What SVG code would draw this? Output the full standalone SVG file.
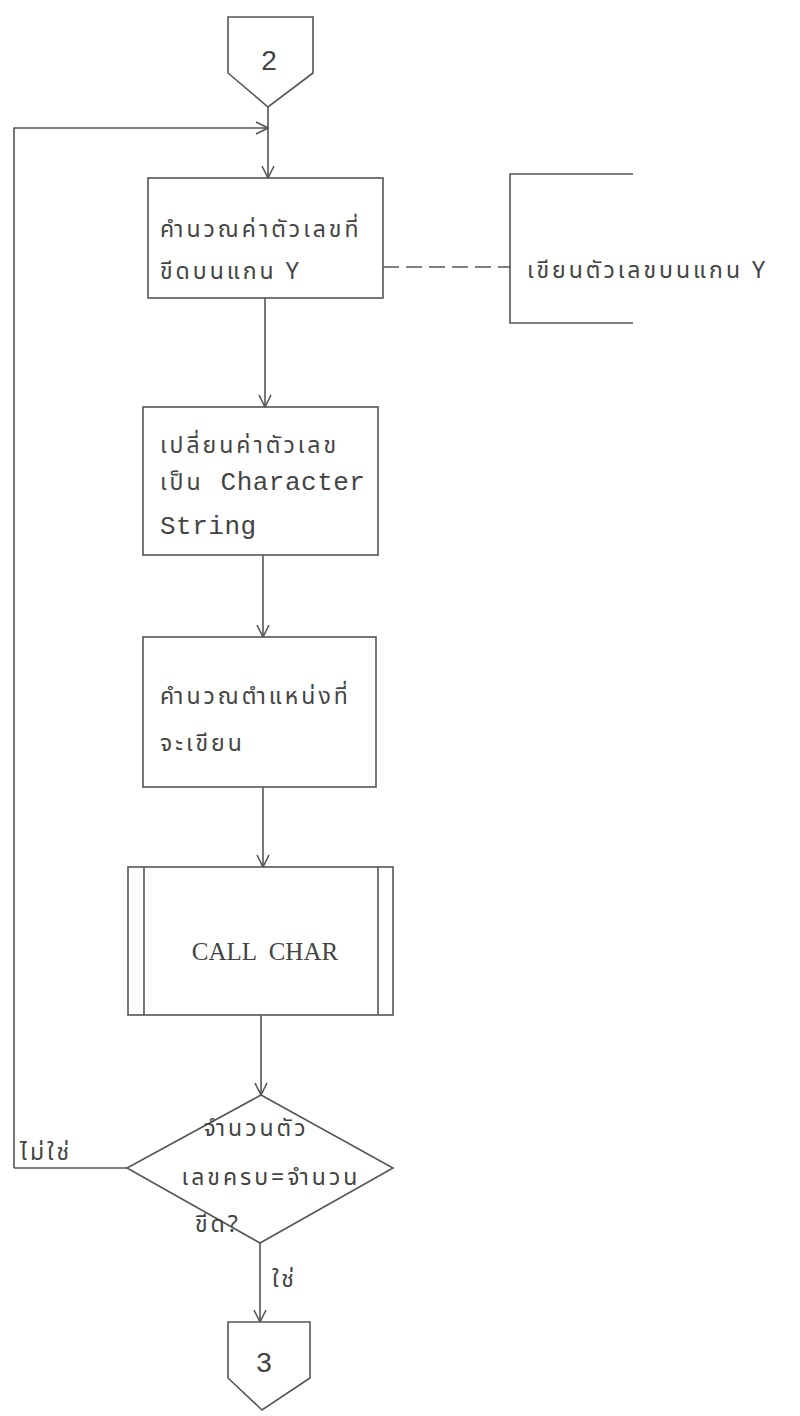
<svg xmlns="http://www.w3.org/2000/svg" width="800" height="1416" viewBox="0 0 800 1416">
<style>
.s{fill:none;stroke:#555;stroke-width:1.6}
.b{fill:#fff;stroke:#555;stroke-width:1.6}
.t{font-family:"Noto Sans Thai","Noto Sans","DejaVu Sans",sans-serif;font-size:23px;fill:#444;letter-spacing:3px}
.m{font-family:"Liberation Mono",monospace;font-size:26px;fill:#444;letter-spacing:0.5px}
.r{font-family:"Liberation Serif",serif;font-size:25px;fill:#444}
.d{font-family:"Liberation Sans",sans-serif;font-size:28px;fill:#444}
</style>
<defs>
<marker id="a" viewBox="0 0 14 14" refX="13" refY="7" markerWidth="14" markerHeight="14" markerUnits="userSpaceOnUse" orient="auto">
<path d="M1,1 L13,7 L1,13" fill="none" stroke="#555" stroke-width="1.6"/>
</marker>
</defs>
<rect width="800" height="1416" fill="#fff"/>
<g id="connectors">
<path class="s" d="M268,107 V178" marker-end="url(#a)"/>
<path class="s" d="M14,1168 V128 H268" marker-end="url(#a)"/>
<path class="s" d="M265,298 V407" marker-end="url(#a)"/>
<path class="s" d="M263,555 V637" marker-end="url(#a)"/>
<path class="s" d="M263,787 V867" marker-end="url(#a)"/>
<path class="s" d="M261,1015 V1095" marker-end="url(#a)"/>
<path class="s" d="M127,1168 H14"/>
<path class="s" d="M260,1243 V1322" marker-end="url(#a)"/>
<path class="s" d="M383,267 H510" stroke-dasharray="16,7"/>
<text class="t" x="20" y="1160">ไม่ใช่</text>
<text class="t" x="272" y="1287">ใช่</text>
</g>
<g id="n_conn2">
<path class="b" d="M228,17 H313 V73 L268,107 L228,73 Z"/>
<text class="d" x="269" y="70" text-anchor="middle">2</text>
</g>
<g id="n_calc">
<rect class="b" x="148" y="178" width="235" height="120"/>
<text class="t" x="160" y="237">คำนวณค่าตัวเลขที่</text>
<text class="t" x="160" y="279">ขีดบนแกน  Y</text>
</g>
<g id="n_annot">
<path class="s" d="M633,174 H510 V323 H633"/>
<text class="t" x="527" y="278">เขียนตัวเลขบนแกน  Y</text>
</g>
<g id="n_convert">
<rect class="b" x="143" y="407" width="235" height="148"/>
<text class="t" x="160" y="453">เปลี่ยนค่าตัวเลข</text>
<text class="t" x="160" y="490">เป็น <tspan class="m" dx="8">Character</tspan></text>
<text class="m" x="160" y="534">String</text>
</g>
<g id="n_pos">
<rect class="b" x="143" y="637" width="233" height="150"/>
<text class="t" x="160" y="704">คำนวณตำแหน่งที่</text>
<text class="t" x="160" y="751">จะเขียน</text>
</g>
<g id="n_call">
<rect class="b" x="128" y="867" width="265" height="148"/>
<path class="s" d="M144,867 V1015 M378,867 V1015"/>
<text class="r" x="265" y="960" text-anchor="middle" xml:space="preserve">CALL  CHAR</text>
</g>
<g id="n_dec">
<path class="b" d="M261,1095 L393,1168 L260,1243 L127,1168 Z"/>
<text class="t" x="256" y="1136" text-anchor="middle">จำนวนตัว</text>
<text class="t" x="271" y="1185" text-anchor="middle">เลขครบ=จำนวน</text>
<text class="t" x="195" y="1232">ขีด?</text>
</g>
<g id="n_conn3">
<path class="b" d="M228,1322 H310 V1378 L262,1410 L228,1378 Z"/>
<text class="d" x="264" y="1372" text-anchor="middle">3</text>
</g>
</svg>
